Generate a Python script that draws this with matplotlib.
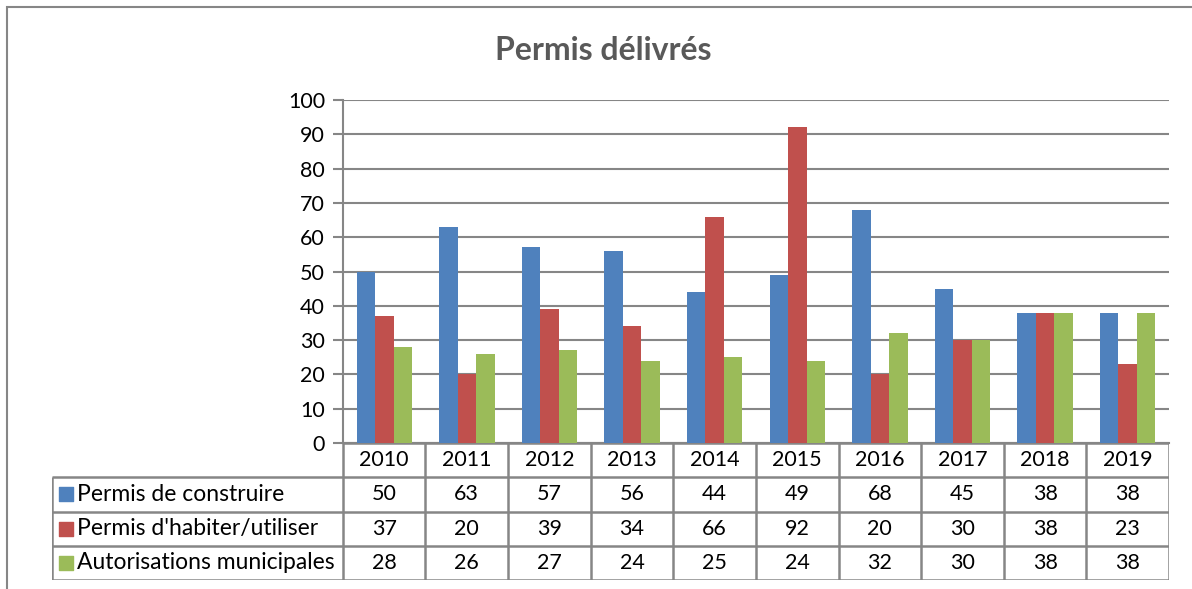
import matplotlib
matplotlib.use("Agg")
import matplotlib.pyplot as plt
from matplotlib.patches import Rectangle

years = ["2010", "2011", "2012", "2013", "2014", "2015", "2016", "2017", "2018", "2019"]
series_names = ["Permis de construire", "Permis d'habiter/utiliser", "Autorisations municipales"]
construire = [50, 63, 57, 56, 44, 49, 68, 45, 38, 38]
habiter = [37, 20, 39, 34, 66, 92, 20, 30, 38, 23]
autorisations = [28, 26, 27, 24, 25, 24, 32, 30, 38, 38]
colors = ["#4F81BD", "#C0504D", "#9BBB59"]

plt.rcParams["font.family"] = ["Lato", "DejaVu Sans"]
grid_col = "#868686"
W, H = 1192, 589

fig = plt.figure(figsize=(W / 100, H / 100), dpi=100)

# outer chart border (runs off the right/bottom edge like in the original)
fig.add_artist(Rectangle((7 / W, -0.1), 1.2, 1 - 7 / H + 0.1, transform=fig.transFigure,
                         fill=False, edgecolor=grid_col, lw=1.5))

fig.text(603 / W, 1 - 60 / H, "Permis délivrés", ha="center", va="baseline",
         fontsize=23, fontweight="bold", color="#595959")

# bar area
ax = fig.add_axes([343 / W, (H - 443) / H, 826 / W, 343 / H])
x = list(range(len(years)))
bw = 0.224
all_series = [construire, habiter, autorisations]
for i, vals in enumerate(all_series):
    ax.bar([k + (i - 1) * bw for k in x], vals, width=bw, color=colors[i], zorder=3)

ax.set_xlim(-0.5, 9.5)
ax.set_ylim(0, 100)
ax.set_yticks(range(0, 101, 10))
ax.yaxis.grid(True, color=grid_col, lw=1.5, zorder=0)
ax.set_xticks([])
for s in ["top", "right"]:
    ax.spines[s].set_visible(False)
ax.spines["left"].set_color(grid_col)
ax.spines["left"].set_linewidth(1.5)
ax.spines["bottom"].set_color(grid_col)
ax.spines["bottom"].set_linewidth(1.5)
ax.tick_params(axis="y", length=7, width=1.5, color=grid_col, labelsize=15.5, pad=6)

# data table below
tx = fig.add_axes([52 / W, (H - 580) / H, 1117 / W, 137 / H])
left = -4.02
tx.set_xlim(left, 9.5)
tx.set_ylim(0, 4)
tx.axis("off")

lw = 1.8
tx.hlines([4], -0.5, 9.5, color=grid_col, lw=lw)
tx.hlines([3, 2, 1, 0], left, 9.5, color=grid_col, lw=lw)
tx.vlines([k - 0.5 for k in range(len(years) + 1)], 0, 4, color=grid_col, lw=lw)
tx.vlines([left], 0, 3, color=grid_col, lw=lw)

for k, yr in enumerate(years):
    tx.text(k, 3.5, yr, ha="center", va="center", fontsize=15.5)

for r, (name, vals) in enumerate(zip(series_names, all_series)):
    yc = 2.5 - r
    tx.scatter([left + 0.17], [yc], marker="s", s=90, color=colors[r], zorder=3)
    tx.text(left + 0.3, yc, name, ha="left", va="center", fontsize=16.5)
    for k, v in enumerate(vals):
        tx.text(k, yc, str(v), ha="center", va="center", fontsize=15.5)

fig.savefig("out.png", dpi=100)
